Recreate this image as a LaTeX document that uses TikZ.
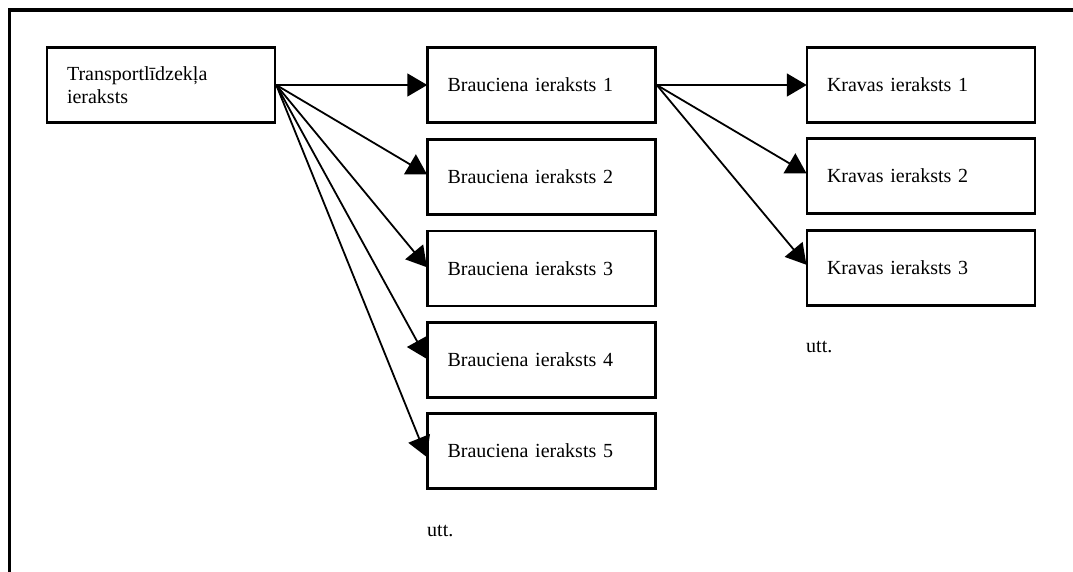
\documentclass[tikz,border=0pt]{standalone}
\usepackage{fontspec}
\setmainfont{Liberation Serif}
\usetikzlibrary{arrows.meta}
\begin{document}
\begin{tikzpicture}[x=1pt,y=-1pt,
  recbox/.style={draw,line width=2.5pt,minimum height=75pt,text width=188pt,
    inner xsep=20pt,inner ysep=0pt,align=left,anchor=center,
    font=\fontsize{20}{23}\selectfont},
  conn/.style={line width=1.8pt,-{Triangle[length=20pt,width=23pt]},shorten >=-1pt},
  lbl/.style={anchor=base west,inner sep=0pt,font=\fontsize{20}{23}\selectfont}]
\useasboundingbox (0,0) rectangle (1073,572);
\draw[line width=3.2pt] (9.7,575) -- (9.7,10) -- (1076,10);
\node[recbox] (t) at (161,85) {Transportlīdzekļa\\ieraksts};
\node[recbox] (b1) at (541.5,85) {Brauciena ieraksts 1};
\node[recbox] (b2) at (541.5,177) {Brauciena ieraksts 2};
\node[recbox] (b3) at (541.5,268.5) {Brauciena ieraksts 3};
\node[recbox] (b4) at (541.5,360) {Brauciena ieraksts 4};
\node[recbox] (b5) at (541.5,451) {Brauciena ieraksts 5};
\node[recbox] (k1) at (921,85) {Kravas ieraksts 1};
\node[recbox] (k2) at (921,176) {Kravas ieraksts 2};
\node[recbox] (k3) at (921,268) {Kravas ieraksts 3};
\node[lbl] (u1) at (806,352) {utt.};
\node[lbl] (u2) at (427,536) {utt.};
\coordinate (ts) at (t.east);
\coordinate (bs) at (b1.east);
\draw[conn] (ts) -- (b1.west);
\draw[conn] (ts) -- ([yshift=3pt]b2.west);
\draw[conn] (ts) -- ([yshift=2pt]b3.west);
\draw[conn] (ts) -- ([yshift=2pt]b4.west);
\draw[conn] (ts) -- ([yshift=-5pt]b5.west);
\draw[conn] (bs) -- (k1.west);
\draw[conn] (bs) -- ([yshift=3pt]k2.west);
\draw[conn] (bs) -- ([yshift=4pt]k3.west);
\end{tikzpicture}
\end{document}
